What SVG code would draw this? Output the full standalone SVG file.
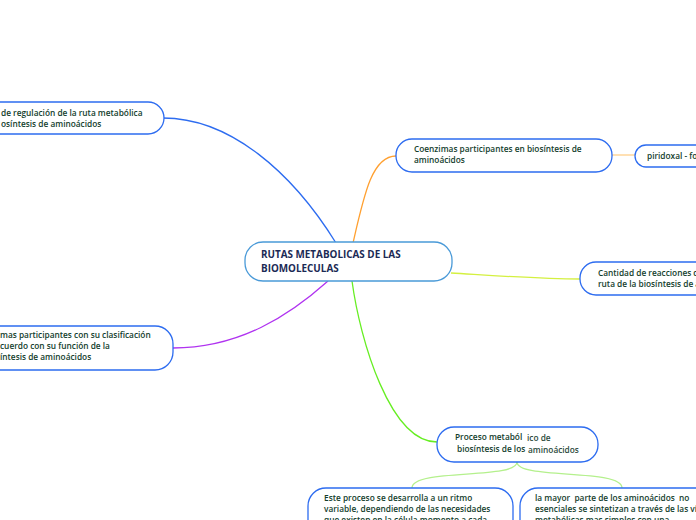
<svg xmlns="http://www.w3.org/2000/svg" width="696" height="520" viewBox="0 0 696 520">
<style>
.box{fill:#fff;stroke:#2d6cf0;stroke-width:1.3}
.t{font-family:"Open Sans","Noto Sans",sans-serif;font-weight:600;font-size:8.3px;fill:#123d2c;white-space:pre}
.c{font-family:"Open Sans","Noto Sans",sans-serif;font-weight:700;font-size:9.9px;fill:#1b2a55}
.ln{fill:none;stroke-width:1.3}
</style>
<rect width="696" height="520" fill="#fff"/>
<g id="connectors">
<path class="ln" stroke="#2d6cf0" d="M163 118 C230 118 292 172 336 243"/>
<path class="ln" stroke="#ffa030" d="M353 243 C364 195 372 156 396 156"/>
<path class="ln" stroke="#ffd08a" d="M612 155 L635 155"/>
<path class="ln" stroke="#d4f040" d="M451 273 C500 276 540 279 580 279"/>
<path class="ln" stroke="#b033f0" d="M328 281 C290 315 240 348 173 348"/>
<path class="ln" stroke="#66ee22" d="M352 281 C360 340 390 442 437 442"/>
<path class="ln" stroke="#b4f08c" d="M517 462 C517 480 412 468 412 488"/>
<path class="ln" stroke="#b4f08c" d="M517 462 C517 480 622 468 622 488"/>
</g>
<g id="central">
<rect x="245" y="242" width="207" height="39" rx="18" fill="#fff" stroke="#4a9ad8" stroke-width="1.3"/>
<text class="c" x="261" y="258">RUTAS METABOLICAS DE LAS</text>
<text class="c" x="261" y="272">BIOMOLECULAS</text>
</g>
<g id="regulacion">
<rect class="box" x="-100" y="102" width="264" height="32" rx="16"/>
<text class="t" x="1" y="116">de regulación de la ruta metabólica</text>
<text class="t" x="1" y="127">osíntesis de aminoácidos</text>
</g>
<g id="enzimas">
<rect class="box" x="-100" y="326" width="273" height="44" rx="18"/>
<text class="t" x="0" y="338">mas participantes con su clasificación</text>
<text class="t" x="0" y="349">cuerdo con su función de la</text>
<text class="t" x="0" y="360">íntesis de aminoácidos</text>
</g>
<g id="coenzimas">
<rect class="box" x="396" y="139" width="216" height="33" rx="16"/>
<text class="t" x="414" y="152">Coenzimas participantes en biosíntesis de</text>
<text class="t" x="414" y="163">aminoácidos</text>
</g>
<g id="piridoxal">
<rect class="box" x="635" y="145" width="130" height="22" rx="11"/>
<text class="t" x="647" y="159">piridoxal - fo</text>
</g>
<g id="cantidad">
<rect class="box" x="580" y="262" width="180" height="33" rx="16"/>
<text class="t" x="598" y="276">Cantidad de reacciones c</text>
<text class="t" x="598" y="287">ruta de la biosíntesis de a</text>
</g>
<g id="proceso">
<rect class="box" x="437" y="427" width="161" height="35" rx="17"/>
<text class="t" x="455" y="440">Proceso metaból<tspan x="527" y="441" fill="#2c4a3c">ico de</tspan></text>
<text class="t" x="457" y="452">biosíntesis de los<tspan x="528" y="453" fill="#2c4a3c">aminoácidos</tspan></text>
</g>
<g id="ritmo">
<rect class="box" x="308" y="488" width="205" height="80" rx="18"/>
<text class="t" x="324" y="501">Este proceso se desarrolla a un ritmo</text>
<text class="t" x="324" y="512">variable, dependiendo de las necesidades</text>
<text class="t" x="324" y="523">que existen en la célula momento a cada</text>
</g>
<g id="mayor">
<rect class="box" x="520" y="488" width="240" height="80" rx="18"/>
<text class="t" x="535" y="501">la mayor  parte de los aminoácidos  no</text>
<text class="t" x="535" y="512">esenciales se sintetizan a través de las vías</text>
<text class="t" x="535" y="523">metabólicas mas simples con una</text>
</g>
</svg>
